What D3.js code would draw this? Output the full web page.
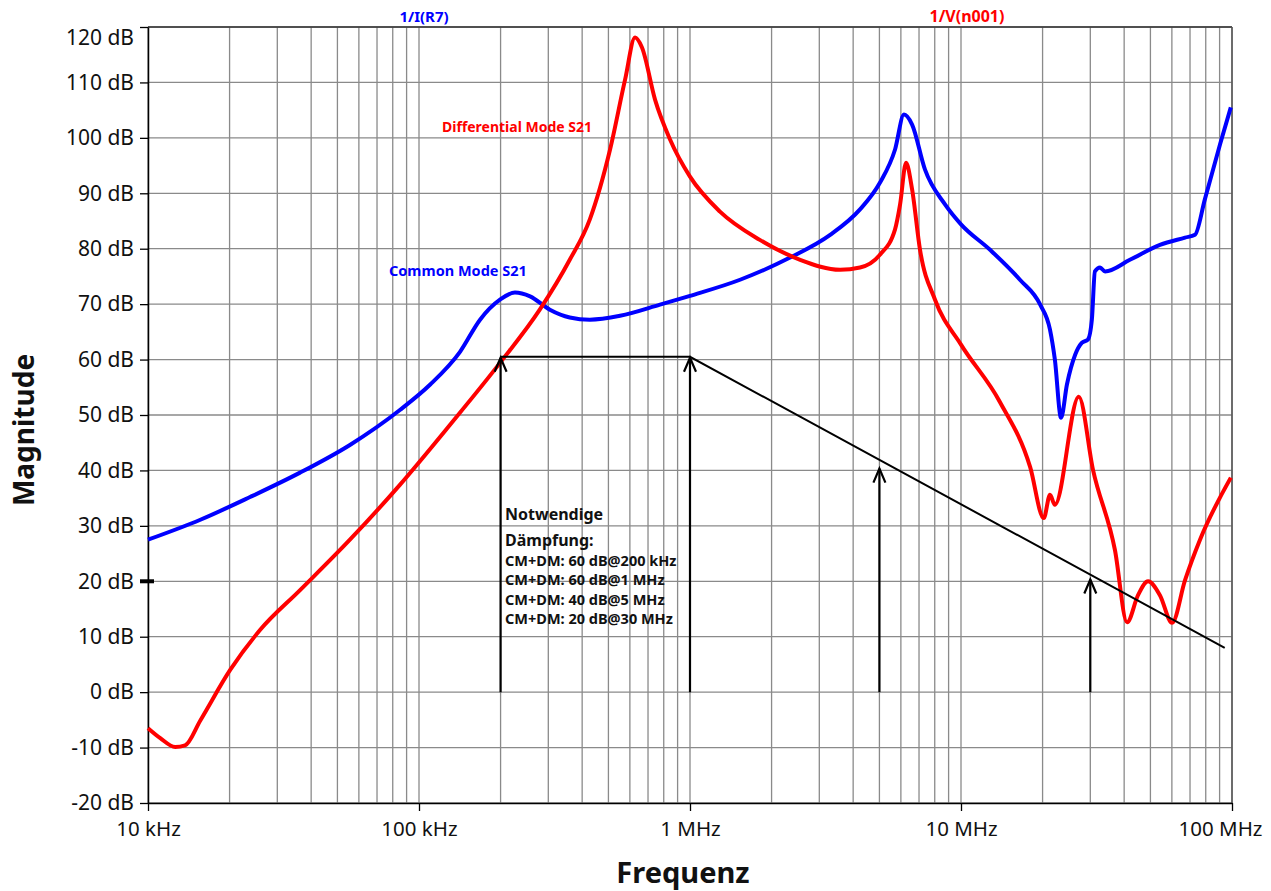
<!DOCTYPE html>
<html>
<head>
<meta charset="utf-8">
<script src="https://cdn.jsdelivr.net/npm/d3@7"></script>
<style>
  body { margin: 0; background: #fff; }
  text { font-family: "Noto Sans", sans-serif; }
</style>
</head>
<body>
<div id="chart"></div>
<script>
// data (frequency in Hz, magnitude in dB)
var cmFreq = [1e4, 15.6e3, 23.8e3, 36.4e3, 55.6e3, 85e3, 110e3, 141.7e3, 168e3, 199e3, 226e3, 257e3, 304e3, 360e3, 427e3, 552e3, 775e3,
  1e6, 1.53e6, 2.34e6, 3.29e6, 4.24e6, 5.02e6, 5.71e6, 6.16e6, 6.6e6, 7.36e6, 8.73e6, 10e6, 12.8e6, 16.5e6, 19.6e6, 21.3e6, 22.2e6,
  23.4e6, 24.6e6, 26.4e6, 27.9e6, 29.4e6, 30.4e6, 31.2e6, 32.6e6, 34e6, 42e6, 54.2e6, 67.1e6, 73e6, 79.4e6, 90.3e6, 99e6];
var cmDb = [27.5, 31.1, 35.2, 39.6, 44.6, 50.9, 55.5, 61.4, 67.2, 70.8, 72.1, 71.4, 69, 67.6, 67.2, 67.9, 69.9,
  71.5, 74.4, 78.4, 82.5, 87.1, 91.9, 97.9, 104.2, 102.4, 94.3, 88, 84.4, 79.8, 74.4, 69.9, 65.4, 60,
  49.5, 55.5, 60.9, 63, 63.6, 67.2, 75.9, 76.6, 75.9, 78, 80.7, 82, 82.5, 88.9, 98.8, 105.5];

var dmFreq = [1e4, 11.1e3, 12.6e3, 13.7e3, 15.6e3, 20.1e3, 25.9e3, 36.4e3, 55.6e3, 85e3, 130e3, 199e3, 279e3, 360e3, 427e3, 507e3,
  576e3, 627e3, 665e3, 743e3, 844e3, 1e6, 1.29e6, 1.81e6, 2.55e6, 3.58e6, 4.24e6, 5.02e6, 5.71e6, 5.96e6, 6.27e6, 6.6e6, 7.06e6,
  8.02e6, 10e6, 13.9e6, 18e6, 20.2e6, 21.3e6, 22.2e6, 27.2e6, 30.7e6, 37e6, 41e6, 45e6, 49e6, 54.2e6, 60.1e6, 67.1e6, 76.2e6, 99e6];
var dmDb = [-6.5, -8.3, -9.9, -9.6, -5.1, 4.0, 11.2, 18.4, 27.5, 37.4, 48.2, 59.4, 69, 78, 85.3, 97.9,
  110.5, 118.1, 116.3, 106.9, 99.7, 93, 86.7, 81.6, 78, 76.2, 76.6, 78.9, 83.5, 88, 95.5, 90.7, 79.8,
  70.8, 62.7, 52.4, 40.6, 31.4, 35.6, 33.8, 53.3, 40.1, 25.6, 12.6, 17.5, 20, 17.5, 12.5, 20.2, 27.5, 38.7];

// required attenuation limit
var limitFreq = [200e3, 1e6, 94e6];
var limitDb = [60.5, 60.5, 8];

// arrows: from 0 dB up to the limit
var arrowFreq = [200e3, 1e6, 5e6, 30e6];
var arrowTop = [60.5, 60.5, 40.5, 20.5];

var xTicks = [1e4, 1e5, 1e6, 1e7, 1e8];
var xTickLabels = ["10 kHz", "100 kHz", "1 MHz", "10 MHz", "100 MHz"];
var yTicks = d3.range(-20, 121, 10);

var noteLines = ["CM+DM: 60 dB@200 kHz", "CM+DM: 60 dB@1 MHz", "CM+DM: 40 dB@5 MHz", "CM+DM: 20 dB@30 MHz"];

var svgWidth = 1271;
var svgHeight = 891;
var margin = { top: 27, right: 39, bottom: 88, left: 148 };
var width = svgWidth - margin.left - margin.right;
var height = svgHeight - margin.top - margin.bottom;

var svg = d3.select("#chart").append("svg")
  .attr("width", svgWidth)
  .attr("height", svgHeight);

var g = svg.append("g")
  .attr("transform", `translate(${margin.left}, ${margin.top})`);

var x = d3.scaleLog().domain([1e4, 1e8]).range([0, width]);
var y = d3.scaleLinear().domain([-20, 120]).range([height, 0]);

// grid
var minor = [];
for (var e = 4; e < 8; e++) {
  for (var m = 1; m < 10; m++) minor.push(m * Math.pow(10, e));
}
minor.push(1e8);

g.selectAll(".vgrid").data(minor).enter().append("line")
  .attr("x1", d => x(d)).attr("x2", d => x(d))
  .attr("y1", 0).attr("y2", height)
  .attr("stroke", "#8a8a8a").attr("stroke-width", 1.3);

g.selectAll(".hgrid").data(yTicks).enter().append("line")
  .attr("x1", 0).attr("x2", width)
  .attr("y1", d => y(d)).attr("y2", d => y(d))
  .attr("stroke", "#8a8a8a").attr("stroke-width", 1.3);

// frame
g.append("line").attr("x1", 0).attr("x2", width).attr("y1", 0).attr("y2", 0)
  .attr("stroke", "#333").attr("stroke-width", 1.5);
g.append("line").attr("x1", width).attr("x2", width).attr("y1", 0).attr("y2", height)
  .attr("stroke", "#555").attr("stroke-width", 1.5);

// axes
var yAxis = d3.axisLeft(y).tickValues(yTicks).tickSize(8).tickSizeOuter(0)
  .tickFormat(d => d + " dB");
var yG = g.append("g").call(yAxis);
yG.select(".domain").attr("stroke", "#000").attr("stroke-width", 1.5);
yG.selectAll(".tick line").attr("stroke", "#000").attr("stroke-width", 1.3);
yG.selectAll(".tick text").attr("font-size", "21px").attr("fill", "#111").attr("x", -14);
yG.selectAll(".tick").filter(d => d === 120).select("text").attr("dy", "0.85em");

var xAxis = d3.axisBottom(x).tickValues(xTicks).tickSize(8).tickSizeOuter(0)
  .tickFormat((d, i) => xTickLabels[i]);
var xG = g.append("g").attr("transform", `translate(0, ${height})`).call(xAxis);
xG.select(".domain").attr("stroke", "#000").attr("stroke-width", 1.5);
xG.selectAll(".tick line").attr("stroke", "#000").attr("stroke-width", 1.3);
xG.selectAll(".tick text").attr("font-size", "20.5px").attr("fill", "#111").attr("y", 18);
// last label pulled inside the page
xG.selectAll(".tick").filter(d => d === 1e8).select("text")
  .attr("text-anchor", "end").attr("x", 30);

// small thick mark at 20 dB
g.append("line").attr("x1", -8).attr("x2", 6).attr("y1", y(20)).attr("y2", y(20))
  .attr("stroke", "#000").attr("stroke-width", 4);

// curves
var line = d3.line()
  .x(d => x(d[0]))
  .y(d => y(d[1]))
  .curve(d3.curveMonotoneX);

g.append("path")
  .datum(cmFreq.map((f, i) => [f, cmDb[i]]))
  .attr("d", line)
  .attr("fill", "none").attr("stroke", "#0000ff").attr("stroke-width", 4)
  .attr("stroke-linejoin", "round");

g.append("path")
  .datum(dmFreq.map((f, i) => [f, dmDb[i]]))
  .attr("d", line)
  .attr("fill", "none").attr("stroke", "#ff0000").attr("stroke-width", 4)
  .attr("stroke-linejoin", "round");

// limit line
g.append("path")
  .datum(limitFreq.map((f, i) => [f, limitDb[i]]))
  .attr("d", d3.line().x(d => x(d[0])).y(d => y(d[1])))
  .attr("fill", "none").attr("stroke", "#000").attr("stroke-width", 2);

// arrows
arrowFreq.forEach(function(f, i) {
  var ax = x(f), top = y(arrowTop[i]);
  g.append("line").attr("x1", ax).attr("x2", ax).attr("y1", y(0)).attr("y2", top + 1)
    .attr("stroke", "#000").attr("stroke-width", 2.2);
  g.append("path")
    .attr("d", `M${ax - 6},${top + 15} L${ax},${top + 1} L${ax + 6},${top + 15}`)
    .attr("fill", "none").attr("stroke", "#000").attr("stroke-width", 2.2);
});

// labels
svg.append("text").attr("x", 424).attr("y", 22).attr("text-anchor", "middle")
  .attr("font-size", "15px").attr("font-weight", "bold").attr("fill", "#0000ff").text("1/I(R7)");
svg.append("text").attr("x", 967).attr("y", 22).attr("text-anchor", "middle")
  .attr("font-size", "16px").attr("font-weight", "bold").attr("fill", "#ff0000").text("1/V(n001)");

svg.append("text").attr("x", 442).attr("y", 132)
  .attr("font-size", "14px").attr("font-weight", "bold").attr("fill", "#ff0000").text("Differential Mode S21");
svg.append("text").attr("x", 389).attr("y", 276)
  .attr("font-size", "14.5px").attr("font-weight", "bold").attr("fill", "#0000ff").text("Common Mode S21");

svg.append("text").attr("x", 505).attr("y", 520)
  .attr("font-size", "16px").attr("font-weight", "bold").attr("fill", "#111").text("Notwendige");
svg.append("text").attr("x", 505).attr("y", 546)
  .attr("font-size", "16px").attr("font-weight", "bold").attr("fill", "#111").text("Dämpfung:");
noteLines.forEach(function(t, i) {
  svg.append("text").attr("x", 505).attr("y", 566 + i * 19.3)
    .attr("font-size", "14.5px").attr("font-weight", "bold").attr("fill", "#111").text(t);
});

// axis titles
svg.append("text").attr("x", 683).attr("y", 883).attr("text-anchor", "middle")
  .attr("font-size", "29px").attr("font-weight", "bold").attr("fill", "#111").text("Frequenz");
svg.append("text").attr("transform", "translate(34, 430) rotate(-90)").attr("text-anchor", "middle")
  .attr("font-size", "28px").attr("font-weight", "bold").attr("fill", "#111").text("Magnitude");
</script>
</body>
</html>
